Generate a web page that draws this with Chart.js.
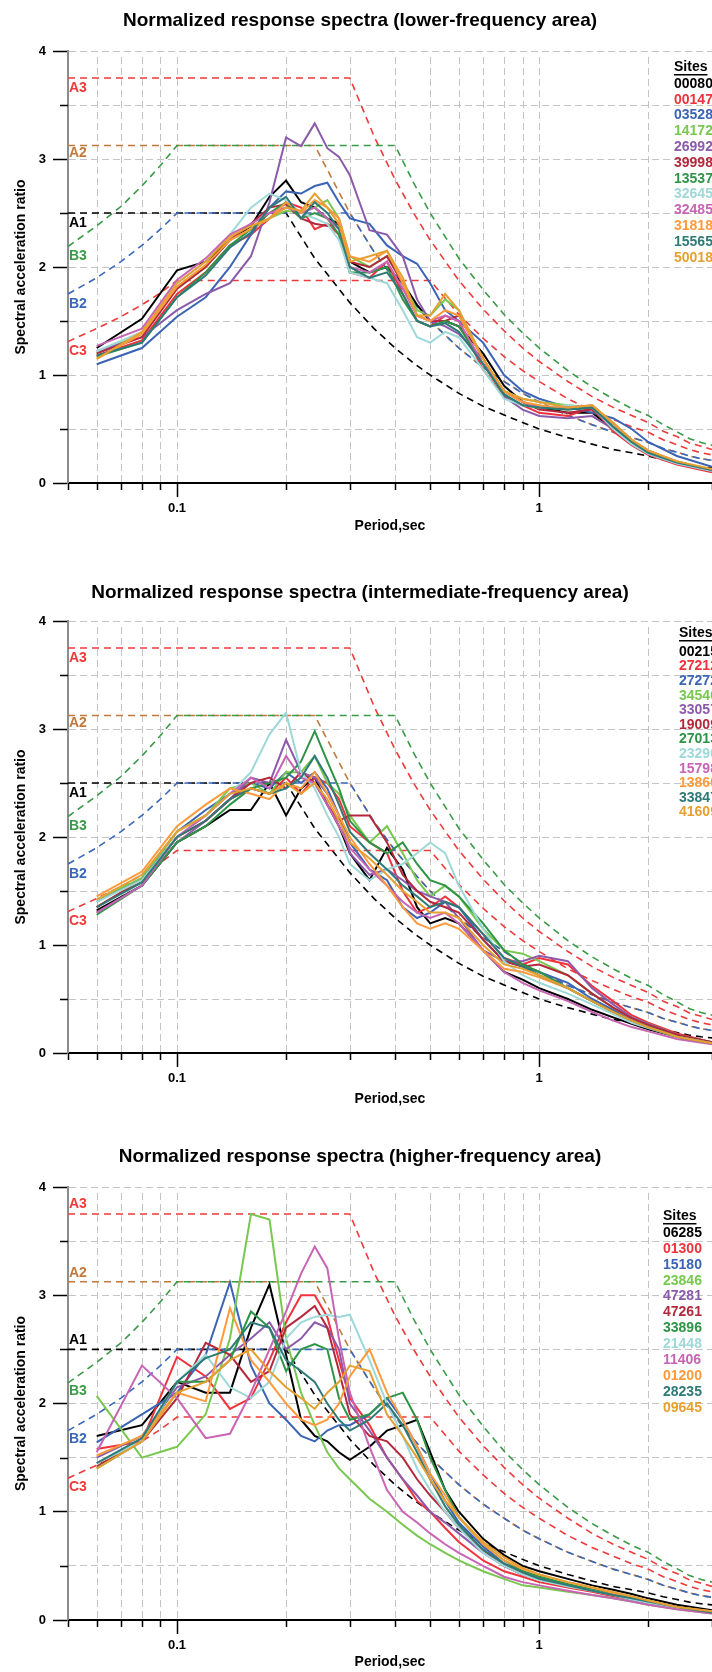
<!DOCTYPE html>
<html lang="en">
<head>
<meta charset="UTF-8">
<title>Normalized response spectra</title>
<script src="https://cdn.jsdelivr.net/npm/chart.js"></script>
<style>
  html, body { margin: 0; padding: 0; background: #fff; overflow: hidden; }
  body { width: 712px; height: 1672px; position: relative; }
  .ttl { position: absolute; left: 0; width: 720px; height: 24px; line-height: 24px; text-align: center;
         font: bold 19px "Liberation Sans", Arial, sans-serif; color: #000; z-index: 2; }
  canvas { position: absolute; left: 0; }
</style>
</head>
<body>
<div class="ttl" style="top:9px">Normalized response spectra (lower-frequency area)</div>
<div class="ttl" style="top:581px">Normalized response spectra (intermediate-frequency area)</div>
<div class="ttl" style="top:1145px">Normalized response spectra (higher-frequency area)</div>
<canvas id="low" width="720" height="540" style="top:0px"></canvas>
<canvas id="mid" width="720" height="550" style="top:560px"></canvas>
<canvas id="high" width="720" height="552" style="top:1120px"></canvas>

<script>
// periods (sec) of the site spectra
const periods = [0.06, 0.08, 0.1, 0.12, 0.14, 0.16, 0.18, 0.2, 0.22, 0.24, 0.26, 0.28, 0.3, 0.34, 0.38,
                 0.42, 0.46, 0.5, 0.55, 0.6, 0.7, 0.8, 0.9, 1.0, 1.2, 1.4, 1.6, 1.8, 2.0, 2.4, 3.0];

// design curves (dashed)
const refPeriods = [0.05, 0.06, 0.07, 0.08, 0.09, 0.1, 0.2, 0.24, 0.3, 0.35, 0.4, 0.45, 0.5, 0.6, 0.7,
                    0.8, 0.9, 1.0, 1.2, 1.4, 1.6, 1.8, 2.0, 2.2, 2.4, 2.6, 2.8, 3.0];
const refNames = ['A3', 'A2', 'A1', 'B3', 'B2', 'C3'];
const refA3 = [3.75, 3.75, 3.75, 3.75, 3.75, 3.75, 3.75, 3.75, 3.75, 3.21, 2.81, 2.5, 2.25, 1.875, 1.61,
               1.41, 1.25, 1.125, 0.94, 0.8, 0.7, 0.625, 0.56, 0.48, 0.43, 0.37, 0.34, 0.31];
const refA2 = [3.125, 3.125, 3.125, 3.125, 3.125, 3.125, 3.125, 3.125, 2.5, 2.14, 1.875, 1.67, 1.5, 1.25, 1.07,
               0.94, 0.83, 0.75, 0.625, 0.54, 0.47, 0.42, 0.375, 0.32, 0.285, 0.25, 0.225, 0.21];
const refA1 = [2.5, 2.5, 2.5, 2.5, 2.5, 2.5, 2.5, 2.08, 1.67, 1.43, 1.25, 1.11, 1.0, 0.83, 0.71,
               0.63, 0.56, 0.5, 0.42, 0.36, 0.31, 0.28, 0.25, 0.215, 0.19, 0.165, 0.15, 0.14];
const refB3 = [2.19, 2.38, 2.56, 2.75, 2.94, 3.125, 3.125, 3.125, 3.125, 3.125, 3.125, 2.78, 2.5, 2.08, 1.79,
               1.56, 1.39, 1.25, 1.04, 0.89, 0.78, 0.69, 0.625, 0.54, 0.475, 0.41, 0.375, 0.35];
const refB2 = [1.75, 1.9, 2.05, 2.2, 2.35, 2.5, 2.5, 2.5, 2.5, 2.14, 1.875, 1.67, 1.5, 1.25, 1.07,
               0.94, 0.83, 0.75, 0.625, 0.54, 0.47, 0.42, 0.375, 0.32, 0.285, 0.25, 0.225, 0.21];
const refC3 = [1.31, 1.43, 1.54, 1.65, 1.76, 1.875, 1.875, 1.875, 1.875, 1.875, 1.875, 1.875, 1.875, 1.56, 1.34,
               1.17, 1.04, 0.94, 0.78, 0.67, 0.59, 0.52, 0.47, 0.4, 0.355, 0.31, 0.28, 0.26];
const refCurves = [refA3, refA2, refA1, refB3, refB2, refC3];
const refColors = ['#ee3a3a', '#c27a3c', '#000000', '#3a9a48', '#3a68b8', '#ee3a3a'];
const refOrder = [104, 105, 106, 101, 102, 103];

const siteColors = ['#000000', '#f0323c', '#3b64b4', '#78c850', '#8c5aaa', '#b4283c',
                    '#2e9446', '#9ed8d8', '#c864b4', '#ff9a3c', '#2e7a76', '#e6a032'];

// lower-frequency area
const lowSites = ['00080', '00147', '03528', '14172', '26992', '39998', '13537', '32645', '32485', '31818', '15565', '50018'];
const lowValues = [
  [1.25,1.52,1.97,2.05,2.25,2.38,2.65,2.8,2.6,2.55,2.45,2.4,2.05,1.95,2.0,1.85,1.65,1.5,1.5,1.45,1.2,0.9,0.75,0.7,0.65,0.65,0.5,0.36,0.27,0.18,0.11],
  [1.18,1.32,1.75,1.95,2.2,2.3,2.45,2.6,2.55,2.35,2.4,2.3,1.95,1.9,2.05,1.75,1.5,1.45,1.55,1.5,1.05,0.8,0.72,0.65,0.62,0.7,0.48,0.35,0.26,0.17,0.1],
  [1.1,1.25,1.54,1.72,2.0,2.3,2.55,2.7,2.68,2.75,2.78,2.6,2.45,2.4,2.2,2.1,2.03,1.85,1.6,1.5,1.3,1.0,0.85,0.78,0.7,0.65,0.6,0.5,0.38,0.25,0.15],
  [1.2,1.38,1.8,2.0,2.25,2.35,2.45,2.52,2.5,2.55,2.62,2.45,2.1,2.0,2.1,1.85,1.6,1.55,1.7,1.6,1.15,0.85,0.78,0.75,0.72,0.7,0.55,0.4,0.3,0.2,0.12],
  [1.22,1.35,1.6,1.75,1.85,2.1,2.6,3.2,3.12,3.33,3.1,3.02,2.85,2.34,2.3,2.1,1.7,1.5,1.45,1.38,1.15,0.8,0.68,0.62,0.6,0.62,0.5,0.36,0.27,0.18,0.11],
  [1.2,1.35,1.8,2.0,2.25,2.4,2.55,2.58,2.45,2.4,2.38,2.4,2.05,2.0,2.1,1.85,1.55,1.5,1.5,1.55,1.15,0.85,0.75,0.68,0.65,0.68,0.5,0.37,0.28,0.19,0.12],
  [1.17,1.3,1.72,1.95,2.2,2.35,2.5,2.6,2.45,2.5,2.45,2.3,1.95,1.95,2.0,1.7,1.5,1.45,1.5,1.45,1.1,0.82,0.72,0.7,0.68,0.7,0.52,0.38,0.28,0.19,0.12],
  [1.22,1.4,1.85,2.05,2.3,2.55,2.68,2.62,2.5,2.45,2.4,2.25,1.95,1.9,1.85,1.6,1.35,1.3,1.4,1.35,1.05,0.78,0.72,0.7,0.72,0.7,0.5,0.36,0.27,0.18,0.11],
  [1.27,1.43,1.88,2.08,2.3,2.4,2.5,2.55,2.5,2.55,2.45,2.35,2.0,1.95,2.05,1.8,1.55,1.5,1.55,1.5,1.1,0.85,0.75,0.7,0.7,0.72,0.55,0.4,0.3,0.2,0.12],
  [1.15,1.38,1.82,2.02,2.25,2.35,2.45,2.6,2.5,2.62,2.55,2.45,2.1,2.05,2.15,1.85,1.55,1.5,1.6,1.55,1.15,0.85,0.75,0.72,0.68,0.72,0.55,0.4,0.3,0.2,0.12],
  [1.18,1.3,1.72,1.92,2.18,2.32,2.55,2.65,2.45,2.6,2.5,2.35,2.0,1.9,1.95,1.75,1.5,1.45,1.48,1.4,1.1,0.82,0.72,0.7,0.68,0.7,0.52,0.38,0.28,0.19,0.12],
  [1.15,1.4,1.85,2.05,2.28,2.38,2.45,2.55,2.52,2.68,2.55,2.4,2.05,2.1,2.15,1.9,1.55,1.55,1.75,1.6,1.15,0.85,0.78,0.75,0.7,0.72,0.56,0.4,0.3,0.2,0.13]
];

// intermediate-frequency area
const midSites = ['00215', '27212', '27272', '34540', '33057', '19009', '27013', '23290', '15798', '13860', '33847', '41609'];
const midValues = [
  [1.32,1.55,1.95,2.1,2.25,2.25,2.5,2.2,2.45,2.55,2.3,2.1,1.85,1.6,1.9,1.7,1.35,1.2,1.25,1.2,0.95,0.75,0.68,0.6,0.5,0.4,0.33,0.27,0.22,0.15,0.1],
  [1.35,1.6,2.0,2.15,2.35,2.45,2.4,2.55,2.4,2.55,2.5,2.35,2.1,1.95,1.85,1.5,1.3,1.35,1.45,1.35,1.1,0.88,0.82,0.88,0.82,0.62,0.48,0.35,0.28,0.18,0.1],
  [1.4,1.62,2.05,2.25,2.4,2.5,2.45,2.6,2.5,2.6,2.45,2.2,1.95,1.7,1.6,1.35,1.25,1.3,1.4,1.35,1.05,0.85,0.8,0.75,0.65,0.5,0.4,0.3,0.25,0.16,0.1],
  [1.42,1.62,2.05,2.2,2.45,2.5,2.4,2.6,2.6,2.75,2.5,2.4,2.2,1.95,2.1,1.85,1.6,1.45,1.55,1.45,1.15,0.95,0.92,0.85,0.72,0.55,0.42,0.33,0.27,0.17,0.1],
  [1.3,1.55,1.95,2.15,2.35,2.55,2.5,2.9,2.6,2.55,2.4,2.2,1.85,1.65,1.7,1.6,1.5,1.45,1.4,1.25,0.95,0.85,0.85,0.9,0.85,0.6,0.45,0.33,0.27,0.17,0.1],
  [1.35,1.6,2.0,2.15,2.35,2.5,2.55,2.45,2.6,2.5,2.3,2.15,2.2,2.2,1.95,1.65,1.5,1.4,1.35,1.3,1.05,0.85,0.8,0.82,0.72,0.55,0.42,0.32,0.26,0.17,0.1],
  [1.28,1.55,1.95,2.1,2.3,2.45,2.5,2.55,2.7,2.98,2.7,2.45,2.15,1.95,1.85,1.95,1.75,1.6,1.55,1.45,1.2,0.95,0.82,0.75,0.6,0.48,0.38,0.3,0.24,0.15,0.09],
  [1.4,1.6,2.0,2.2,2.4,2.6,2.95,3.15,2.6,2.45,2.2,2.0,1.75,1.6,1.7,1.75,1.85,1.95,1.85,1.55,1.15,0.85,0.72,0.65,0.55,0.45,0.36,0.28,0.23,0.15,0.09],
  [1.3,1.55,2.0,2.2,2.4,2.55,2.45,2.75,2.55,2.5,2.3,2.1,1.9,1.7,1.55,1.4,1.3,1.25,1.3,1.2,0.95,0.75,0.65,0.58,0.48,0.38,0.3,0.24,0.2,0.13,0.08],
  [1.45,1.68,2.1,2.3,2.45,2.4,2.35,2.5,2.45,2.6,2.4,2.2,2.0,1.75,1.55,1.35,1.2,1.15,1.2,1.15,0.95,0.78,0.75,0.7,0.6,0.48,0.38,0.3,0.24,0.15,0.09],
  [1.35,1.58,2.0,2.15,2.35,2.45,2.4,2.45,2.55,2.75,2.55,2.3,2.05,1.85,1.7,1.55,1.45,1.35,1.4,1.35,1.1,0.88,0.8,0.72,0.6,0.48,0.38,0.3,0.24,0.15,0.09],
  [1.42,1.65,2.05,2.2,2.4,2.45,2.4,2.5,2.4,2.5,2.35,2.15,1.95,1.8,1.65,1.5,1.4,1.3,1.3,1.25,1.0,0.82,0.78,0.72,0.6,0.48,0.38,0.3,0.24,0.15,0.09]
];

// higher-frequency area
const highSites = ['06285', '01300', '15180', '23846', '47281', '47261', '33896', '21448', '11406', '01200', '28235', '09645'];
const highValues = [
  [1.7,1.8,2.2,2.1,2.1,2.7,3.1,2.45,1.85,1.7,1.65,1.55,1.48,1.6,1.75,1.8,1.85,1.55,1.2,1.0,0.75,0.6,0.5,0.45,0.38,0.32,0.28,0.24,0.2,0.14,0.09],
  [1.58,1.65,2.43,2.25,1.95,2.05,2.4,2.75,3.0,3.0,2.8,2.4,2.05,1.8,1.5,1.3,1.1,1.0,0.85,0.72,0.55,0.45,0.4,0.35,0.3,0.26,0.22,0.19,0.16,0.11,0.07],
  [1.64,1.9,2.1,2.45,3.12,2.35,2.0,1.85,1.7,1.65,1.75,1.8,1.8,1.9,2.05,1.85,1.6,1.35,1.1,0.9,0.68,0.52,0.45,0.4,0.33,0.28,0.24,0.2,0.17,0.12,0.07],
  [2.07,1.5,1.6,1.9,2.6,3.75,3.7,2.6,2.1,1.8,1.55,1.4,1.3,1.12,1.0,0.88,0.78,0.7,0.62,0.55,0.45,0.38,0.32,0.3,0.26,0.23,0.2,0.17,0.14,0.1,0.06],
  [1.5,1.7,2.15,2.25,2.45,2.6,2.75,2.5,2.6,2.75,2.7,2.5,2.0,1.75,1.5,1.3,1.15,1.0,0.9,0.8,0.62,0.5,0.42,0.38,0.32,0.27,0.23,0.19,0.16,0.11,0.07],
  [1.42,1.65,2.05,2.56,2.45,2.2,2.3,2.7,2.8,2.9,2.7,2.3,1.9,1.7,1.65,1.5,1.3,1.15,1.0,0.85,0.65,0.5,0.42,0.38,0.32,0.28,0.24,0.2,0.17,0.12,0.07],
  [1.4,1.65,2.2,2.2,2.4,2.85,2.7,2.3,2.5,2.55,2.5,2.05,1.85,1.9,2.05,2.1,1.85,1.5,1.2,0.95,0.7,0.55,0.45,0.4,0.33,0.28,0.24,0.2,0.17,0.12,0.07],
  [1.45,1.65,2.2,2.45,2.15,2.05,2.2,2.6,2.75,2.8,2.82,2.8,2.82,2.4,2.0,1.7,1.4,1.2,1.0,0.85,0.62,0.5,0.42,0.37,0.31,0.27,0.23,0.19,0.16,0.11,0.07],
  [1.55,2.35,2.05,1.68,1.72,2.1,2.5,2.85,3.2,3.45,3.25,2.6,2.1,1.6,1.2,1.0,0.9,0.8,0.7,0.62,0.5,0.4,0.35,0.32,0.27,0.23,0.2,0.17,0.14,0.1,0.06],
  [1.52,1.7,2.1,2.02,2.88,2.4,2.2,2.0,1.85,1.8,1.85,2.0,2.25,2.5,2.1,1.85,1.6,1.35,1.15,0.95,0.7,0.55,0.47,0.42,0.35,0.3,0.25,0.21,0.18,0.12,0.08],
  [1.45,1.68,2.2,2.42,2.5,2.75,2.7,2.4,2.3,2.2,2.0,1.85,1.75,1.85,2.0,1.8,1.55,1.3,1.05,0.88,0.65,0.52,0.44,0.38,0.32,0.27,0.23,0.2,0.17,0.12,0.07],
  [1.4,1.65,2.1,2.2,2.4,2.5,2.3,2.15,2.05,1.95,2.1,2.2,2.35,2.3,1.9,1.7,1.5,1.3,1.1,0.95,0.72,0.58,0.48,0.42,0.35,0.3,0.26,0.22,0.18,0.12,0.08]
];

// axis ticks
const xTicks = [0.05, 0.06, 0.07, 0.08, 0.09, 0.1, 0.2, 0.3, 0.4, 0.5, 0.6, 0.7, 0.8, 0.9, 1, 2, 3];
const xLabelled = [0.1, 1];

const FONT = '"Liberation Sans", Arial, sans-serif';
Chart.defaults.font.family = FONT;

const decor = {
  id: 'decor',
  beforeDatasetsDraw(chart) {
    // vertical grid lines, stopping a little under the top line
    const { ctx, chartArea: a, scales: { x } } = chart;
    ctx.save();
    ctx.strokeStyle = '#c4c4c4';
    ctx.lineWidth = 1;
    ctx.setLineDash([7, 4]);
    ctx.beginPath();
    xTicks.forEach(v => {
      if (v === xTicks[0]) return;
      const px = Math.round(x.getPixelForValue(v)) + 0.5;
      ctx.moveTo(px, a.top + 6); ctx.lineTo(px, a.bottom);
    });
    ctx.stroke();
    ctx.restore();
  },
  afterDraw(chart) {
    const o = chart.options.plugins.decor;
    const { ctx, chartArea: a, scales: { x, y } } = chart;
    ctx.save();
    // short (minor) tick marks
    ctx.strokeStyle = '#000';
    ctx.lineWidth = 1.5;
    ctx.beginPath();
    xTicks.forEach(v => {
      if (xLabelled.includes(v)) return;
      const px = Math.round(x.getPixelForValue(v)) + 0.5;
      ctx.moveTo(px, a.bottom); ctx.lineTo(px, a.bottom + 7);
    });
    [0.5, 1.5, 2.5, 3.5].forEach(v => {
      const py = Math.round(y.getPixelForValue(v)) + 0.5;
      ctx.moveTo(a.left - 8, py); ctx.lineTo(a.left, py);
    });
    ctx.stroke();

    // design curve labels
    ctx.font = 'bold 14px ' + FONT;
    ctx.textAlign = 'left';
    ctx.textBaseline = 'middle';
    refNames.forEach((n, i) => {
      ctx.fillStyle = refColors[i];
      ctx.fillText(n, a.left + 1, y.getPixelForValue(refCurves[i][0]) + o.labelOffsets[i]);
    });

    // sites legend
    const L = o.legend;
    ctx.fillStyle = '#000';
    ctx.fillText('Sites', L.x, L.top);
    const w = ctx.measureText('Sites').width;
    ctx.fillRect(L.x, L.top + 7, w, 1.5);
    o.sites.forEach((s, i) => {
      ctx.fillStyle = siteColors[i];
      ctx.fillText(s, L.x, L.first + i * L.step);
    });
    ctx.restore();
  }
};

function makeChart(id, sites, values, L) {
  const datasets = [];
  sites.forEach((s, i) => {
    datasets.push({
      label: s,
      data: periods.map((p, k) => ({ x: p, y: values[i][k] })),
      borderColor: siteColors[i],
      borderWidth: 2,
      order: 12 - i
    });
  });
  refNames.forEach((n, i) => {
    datasets.push({
      label: n,
      data: refPeriods.map((p, k) => ({ x: p, y: refCurves[i][k] })),
      borderColor: refColors[i],
      borderWidth: 1.6,
      borderDash: [7, 5],
      order: refOrder[i]
    });
  });

  return new Chart(document.getElementById(id), {
    type: 'line',
    data: { datasets },
    plugins: [decor],
    options: {
      responsive: false,
      animation: false,
      devicePixelRatio: 1,
      layout: { padding: { top: L.top, right: 8, bottom: 0, left: 0 } },
      elements: { point: { radius: 0 }, line: { tension: 0, fill: false } },
      plugins: {
        legend: { display: false },
        tooltip: { enabled: false },
        decor: { sites, legend: L.legend, labelOffsets: L.labelOffsets }
      },
      scales: {
        x: {
          type: 'logarithmic',
          min: 0.05,
          max: 3,
          afterBuildTicks: s => { s.ticks = xTicks.map(v => ({ value: v })); },
          afterFit: s => { s.height = L.axisH; },
          ticks: {
            autoSkip: false, maxRotation: 0, padding: 4, color: '#000',
            font: { size: 13, weight: 'bold' },
            callback: v => (xLabelled.includes(v) ? String(v) : '')
          },
          grid: {
            drawOnChartArea: false, tickLength: 14, tickWidth: 1.5,
            tickColor: c => (c.tick && xLabelled.includes(c.tick.value) ? '#000' : 'rgba(0,0,0,0)')
          },
          border: { color: '#000', width: 2 },
          title: {
            display: true, text: 'Period,sec', color: '#000',
            font: { size: 14, weight: 'bold' }, padding: { top: 0, bottom: L.xTitlePad }
          }
        },
        y: {
          min: 0,
          max: 4,
          afterFit: s => { s.width = 68; },
          ticks: {
            stepSize: 0.5, padding: 7, color: '#000',
            font: { size: 13, weight: 'bold' },
            callback: v => (Number.isInteger(v) ? String(v) : '')
          },
          grid: {
            color: '#c4c4c4', lineWidth: 1, tickLength: 15, tickWidth: 1.5,
            tickColor: c => (c.tick && Number.isInteger(c.tick.value) ? '#000' : 'rgba(0,0,0,0)')
          },
          border: { color: '#8c8c8c', width: 2, dash: [7, 4] },
          title: {
            display: true, text: 'Spectral acceleration ratio', color: '#000',
            font: { size: 14, weight: 'bold' }, padding: { top: 13, bottom: 0 }
          }
        }
      }
    }
  });
}

makeChart('low', lowSites, lowValues, {
  top: 51, axisH: 57, xTitlePad: 5,
  labelOffsets: [10, 8, 10, 10, 10, 10],
  legend: { x: 674, top: 67, first: 84, step: 15.8 }
});
makeChart('mid', midSites, midValues, {
  top: 61, axisH: 57, xTitlePad: 2,
  labelOffsets: [10, 8, 10, 10, 10, 10],
  legend: { x: 679, top: 73, first: 92, step: 14.6 }
});
makeChart('high', highSites, highValues, {
  top: 67, axisH: 52, xTitlePad: 1,
  labelOffsets: [-10, -9, -9, 8, 9, 9],
  legend: { x: 663, top: 96, first: 113, step: 15.9 }
});
</script>
</body>
</html>
